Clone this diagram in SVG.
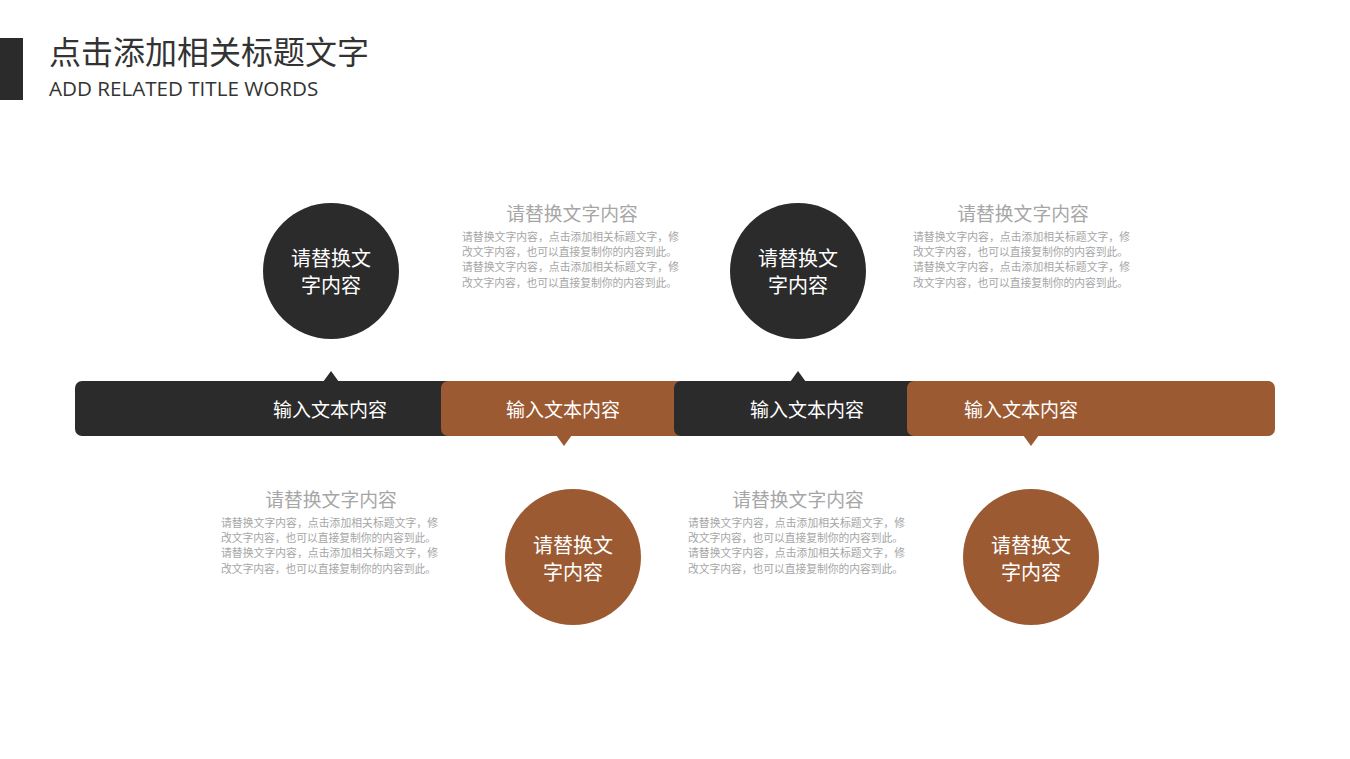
<svg xmlns="http://www.w3.org/2000/svg" width="1350" height="759" viewBox="0 0 1350 759">
<style>
.cj{font-family:"Liberation Sans","Noto Sans CJK SC",sans-serif;}
.ttl{font-size:32px;fill:#333333;}
.sub{font-family:"Open Sans","Liberation Sans",sans-serif;font-size:20.6px;fill:#333333;}
.dk{fill:#2b2b2b;}
.br{fill:#9c5a33;}
.wt{fill:#ffffff;font-size:19px;text-anchor:middle;}
.ct{fill:#ffffff;font-size:20px;text-anchor:middle;}
.gh{fill:#a6a6a6;font-size:18.8px;text-anchor:middle;}
.gb{fill:#a6a6a6;font-size:10.8px;}
</style>
<rect width="1350" height="759" fill="#ffffff"/>
<g id="header">
<rect x="0" y="38" width="23" height="62" class="dk"/>
<text x="49" y="64" class="cj ttl">点击添加相关标题文字</text>
<text x="49" y="96" class="sub">ADD RELATED TITLE WORDS</text>
</g>
<g id="connectors">
<g id="band1">
<rect x="75" y="381" width="400" height="55" rx="7" class="dk"/>
<polygon points="323,382 331,371 339,382" class="dk"/>
<text x="330" y="417" class="cj wt">输入文本内容</text>
</g>
<g id="band2">
<rect x="441" y="381" width="260" height="55" rx="7" class="br"/>
<polygon points="556,435 564,446 572,435" class="br"/>
<text x="563" y="417" class="cj wt">输入文本内容</text>
</g>
<g id="band3">
<rect x="674" y="381" width="260" height="55" rx="7" class="dk"/>
<polygon points="790,382 798,371 806,382" class="dk"/>
<text x="807" y="417" class="cj wt">输入文本内容</text>
</g>
<g id="band4">
<rect x="907" y="381" width="368" height="55" rx="7" class="br"/>
<polygon points="1023,435 1031,446 1039,435" class="br"/>
<text x="1021" y="417" class="cj wt">输入文本内容</text>
</g>
</g>
<g id="node1">
<circle cx="331" cy="271" r="68" class="dk"/>
<text x="331" y="266" class="cj ct">请替换文</text>
<text x="331" y="293" class="cj ct">字内容</text>
</g>
<g id="node2">
<circle cx="573" cy="557" r="68" class="br"/>
<text x="573" y="553" class="cj ct">请替换文</text>
<text x="573" y="580" class="cj ct">字内容</text>
</g>
<g id="node3">
<circle cx="798" cy="271" r="68" class="dk"/>
<text x="798" y="266" class="cj ct">请替换文</text>
<text x="798" y="293" class="cj ct">字内容</text>
</g>
<g id="node4">
<circle cx="1031" cy="557" r="68" class="br"/>
<text x="1031" y="553" class="cj ct">请替换文</text>
<text x="1031" y="580" class="cj ct">字内容</text>
</g>
<g id="text1">
<text x="572" y="221" class="cj gh">请替换文字内容</text>
<text x="462" y="241" class="cj gb" textLength="217">请替换文字内容，点击添加相关标题文字，修</text>
<text x="462" y="256" class="cj gb" textLength="215">改文字内容，也可以直接复制你的内容到此。</text>
<text x="462" y="271" class="cj gb" textLength="217">请替换文字内容，点击添加相关标题文字，修</text>
<text x="462" y="287" class="cj gb" textLength="215">改文字内容，也可以直接复制你的内容到此。</text>
</g>
<g id="text2">
<text x="1023" y="221" class="cj gh">请替换文字内容</text>
<text x="913" y="241" class="cj gb" textLength="217">请替换文字内容，点击添加相关标题文字，修</text>
<text x="913" y="256" class="cj gb" textLength="215">改文字内容，也可以直接复制你的内容到此。</text>
<text x="913" y="271" class="cj gb" textLength="217">请替换文字内容，点击添加相关标题文字，修</text>
<text x="913" y="287" class="cj gb" textLength="215">改文字内容，也可以直接复制你的内容到此。</text>
</g>
<g id="text3">
<text x="331" y="507" class="cj gh">请替换文字内容</text>
<text x="221" y="527" class="cj gb" textLength="217">请替换文字内容，点击添加相关标题文字，修</text>
<text x="221" y="542" class="cj gb" textLength="215">改文字内容，也可以直接复制你的内容到此。</text>
<text x="221" y="557" class="cj gb" textLength="217">请替换文字内容，点击添加相关标题文字，修</text>
<text x="221" y="573" class="cj gb" textLength="215">改文字内容，也可以直接复制你的内容到此。</text>
</g>
<g id="text4">
<text x="798" y="507" class="cj gh">请替换文字内容</text>
<text x="688" y="527" class="cj gb" textLength="217">请替换文字内容，点击添加相关标题文字，修</text>
<text x="688" y="542" class="cj gb" textLength="215">改文字内容，也可以直接复制你的内容到此。</text>
<text x="688" y="557" class="cj gb" textLength="217">请替换文字内容，点击添加相关标题文字，修</text>
<text x="688" y="573" class="cj gb" textLength="215">改文字内容，也可以直接复制你的内容到此。</text>
</g>
</svg>
